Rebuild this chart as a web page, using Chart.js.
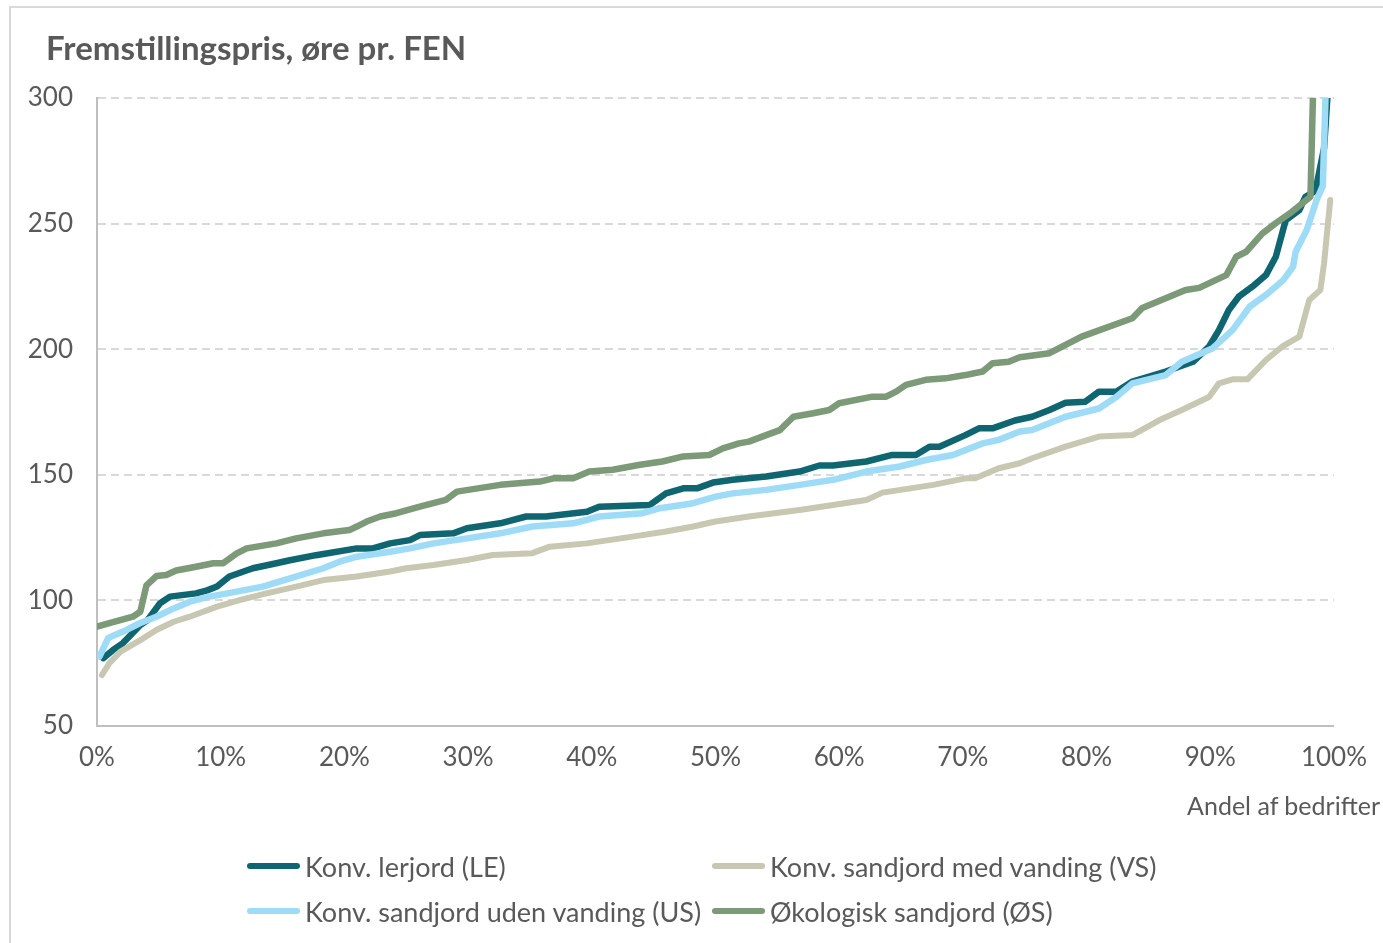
<!DOCTYPE html>
<html>
<head>
<meta charset="utf-8">
<script src="https://cdn.jsdelivr.net/npm/chart.js@4.4.1/dist/chart.umd.min.js"></script>
<style>
  html, body { margin: 0; padding: 0; background: #fff; }
  body { width: 1383px; height: 943px; position: relative; overflow: hidden; font-family: Lato, "Open Sans", sans-serif; color: #595959; }
  #frame { position: absolute; left: 9px; top: 6px; width: 1420px; height: 1000px; border: 2px solid #d9d9d9; }
  #chart { position: absolute; left: 0; top: 0; }
  #title { position: absolute; left: 46px; top: 31px; font-size: 33px; font-weight: bold; line-height: 1; }
  #xtitle { position: absolute; right: 3px; top: 793px; font-size: 25px; line-height: 1; }
  #legend { position: absolute; left: 247px; top: 848px; display: grid; grid-template-columns: 465px auto; row-gap: 9px; }
  .item { display: flex; align-items: center; height: 36px; font-size: 27px; }
  .swatch { width: 53px; height: 6px; margin-right: 5px; border-radius: 3px; }
</style>
</head>
<body>
<div id="frame"></div>
<canvas id="chart" width="1383" height="943"></canvas>
<div id="title">Fremstillingspris, øre pr. FEN</div>
<div id="xtitle">Andel af bedrifter</div>
<div id="legend"></div>
<script>
// andel af bedrifter (%) og fremstillingspris (øre pr. FEN) for hver serie
const lePct = [0.5, 1.3, 2.1, 3.5, 4.1, 5.1, 5.9, 8, 8.9, 9.7, 10.7, 12.6, 14.5, 15.6, 17.7, 21, 22.3, 23.7, 25.3, 26.1, 28.8, 29.9, 32.6, 34.7, 36.3, 39.6, 40.6, 44.7, 46, 47.4, 48.5, 49.8, 51.4, 54.1, 56.8, 58.4, 59.5, 62.2, 64.3, 66.2, 67.3, 68.1, 70.2, 71.3, 72.4, 74.2, 75.6, 77, 78.3, 79.9, 81, 82.4, 83.7, 86.4, 88.6, 89.9, 90.7, 91.5, 92.3, 93.4, 94.5, 95.3, 96.1, 97.2, 97.7, 98.5, 99.2, 99.6];
const leVal = [77, 80.3, 83, 90.2, 92.2, 98.9, 101.5, 102.8, 104, 105.5, 109.5, 112.8, 114.8, 116, 118, 120.7, 120.7, 122.7, 124, 126, 126.7, 128.7, 130.7, 133.4, 133.4, 135.3, 137.3, 138, 142.6, 144.6, 144.6, 146.9, 148, 149.3, 151.3, 153.7, 153.7, 155.3, 157.9, 157.9, 161.2, 161.2, 165.8, 168.5, 168.5, 171.6, 173.1, 175.8, 178.7, 179.1, 183.1, 183.1, 187.1, 191.1, 195, 201, 207.6, 215.6, 220.9, 224.9, 229.5, 236.8, 251.4, 255.4, 260.7, 263, 280, 310];

const vsPct = [0.4, 1, 1.9, 3.5, 4.8, 6.2, 7.5, 9.7, 11.6, 13.7, 16.1, 18.3, 21, 23.7, 25, 27.2, 29.9, 32, 35.2, 36.6, 39.6, 43.3, 46, 48.2, 50, 52.7, 56.8, 59.5, 62.2, 63.5, 67.6, 70.2, 71, 72.9, 74.6, 75.6, 78.3, 81, 83.7, 85.9, 87.7, 89.9, 90.7, 91.8, 93, 94.5, 95.8, 97.2, 98, 98.9, 99.2, 99.7];
const vsVal = [70.3, 75, 79.6, 84.2, 88.2, 91.5, 93.5, 97.5, 100.2, 102.8, 105.5, 108.1, 109.5, 111.5, 112.8, 114.1, 116.1, 118.1, 118.8, 121.4, 122.7, 125.4, 127.4, 129.4, 131.4, 133.4, 136, 138, 140, 142.9, 146, 148.6, 148.6, 152.6, 154.6, 156.6, 161.2, 165.2, 165.8, 171.8, 175.8, 181, 186.4, 188, 188, 195.7, 201, 205, 219.6, 223.6, 234.2, 259.4];

const usPct = [0.2, 0.9, 2.1, 3.5, 4.8, 6.2, 7.5, 9.1, 11.3, 13.4, 15.6, 18.3, 19.6, 21, 23.7, 25.3, 27.2, 29.9, 32.6, 35.2, 38.5, 40.6, 44.1, 45.5, 48.2, 50, 51.4, 54.1, 56.8, 59.5, 62.2, 64.9, 67, 69.2, 71.6, 72.9, 74.6, 75.6, 78.3, 81, 82.4, 83.7, 86.4, 87.7, 90.2, 91.8, 93.2, 94.5, 95.9, 96.7, 96.9, 97.8, 98.6, 99.1, 99.5];
const usVal = [77.6, 85, 87.6, 91, 93.5, 96.8, 99.5, 101.5, 103.5, 105.5, 108.8, 112.8, 115.4, 117.4, 119.4, 120.7, 122.7, 124.7, 126.7, 129.4, 130.7, 133.4, 134.7, 136.7, 138.7, 141.3, 142.6, 144, 146, 148, 151.3, 153.3, 155.9, 157.9, 162.5, 163.9, 167.2, 167.8, 173.1, 176.4, 181, 186.4, 189.7, 195, 200.4, 207.6, 217, 221.6, 227.5, 232.9, 238.8, 247.5, 259.4, 265, 330];

const osPct = [0, 1, 2.9, 3.5, 4, 4.8, 5.6, 6.4, 8, 9.4, 10.2, 11.3, 12.1, 14.5, 16.1, 18.3, 20.4, 21, 21.8, 22.9, 24.2, 26.1, 28.2, 29.1, 32.6, 35.8, 36.9, 38.5, 39.8, 41.7, 43.9, 45.7, 47.4, 49.5, 50.6, 51.9, 52.7, 54.1, 55.2, 56.3, 57.9, 59.2, 60, 62.7, 63.8, 64.6, 65.4, 67, 68.6, 70.2, 71.6, 72.4, 73.7, 74.6, 77, 79.6, 83.7, 84.5, 88, 89.1, 91.3, 92.1, 92.9, 94.2, 95.3, 96.6, 98.1, 98.4];
const osVal = [89.6, 91, 93.5, 95.5, 106, 109.7, 110.1, 111.9, 113.4, 114.8, 114.8, 118.7, 120.7, 122.7, 124.7, 126.7, 128, 129.4, 131.4, 133.4, 134.7, 137.3, 140, 143.3, 146, 147.3, 148.6, 148.6, 151.3, 152, 154, 155.3, 157.3, 157.9, 160.5, 162.5, 163.2, 165.8, 167.8, 173.1, 174.5, 175.8, 178.5, 181.1, 181.1, 183.1, 185.8, 187.8, 188.4, 189.7, 191.1, 194.4, 195, 196.8, 198.4, 205, 212.3, 216.4, 223.6, 224.4, 229.5, 236.8, 238.8, 246, 250.2, 254.7, 260.7, 320];

const seriesNames = ["Konv. lerjord (LE)", "Konv. sandjord med vanding (VS)", "Konv. sandjord uden vanding (US)", "Økologisk sandjord (ØS)"];
const seriesColors = ["#0f6671", "#c8c7b2", "#9edbf7", "#7c9a77"];
const xTicks = [0, 10, 20, 30, 40, 50, 60, 70, 80, 90, 100];
const yTicks = [50, 100, 150, 200, 250, 300];

const seriesPct = [lePct, vsPct, usPct, osPct];
const seriesVal = [leVal, vsVal, usVal, osVal];

function toPoints(pct, val) {
    return pct.map((p, i) => ({ x: p, y: val[i] }));
}

// excel tegner sidste serie øverst, chart.js tegner laveste order øverst
const datasets = seriesNames.map((name, i) => ({
    label: name,
    data: toPoints(seriesPct[i], seriesVal[i]),
    borderColor: seriesColors[i],
    backgroundColor: seriesColors[i],
    borderWidth: i === 1 ? 6 : 6.5,
    pointRadius: 0,
    tension: 0,
    borderJoinStyle: "round",
    borderCapStyle: "round",
    clip: 0,
    order: seriesNames.length - i
}));

const tickFont = { family: "Lato, 'Open Sans', sans-serif", size: 26 };

new Chart(document.getElementById("chart"), {
    type: "line",
    data: { datasets: datasets },
    options: {
        responsive: false,
        animation: false,
        events: [],
        layout: { padding: { left: 0, right: 48, top: 98, bottom: 0 } },
        plugins: {
            legend: { display: false },
            tooltip: { enabled: false }
        },
        scales: {
            x: {
                type: "linear",
                min: 0,
                max: 100,
                afterBuildTicks: s => { s.ticks = xTicks.map(v => ({ value: v })); },
                afterFit: s => { s.height = 943 - 726; },
                ticks: { callback: v => v + "%", font: tickFont, color: "#595959", padding: 16, maxRotation: 0, autoSkip: false },
                grid: { display: false, drawTicks: false },
                border: { display: true, color: "#bfbfbf", width: 2 }
            },
            y: {
                min: 50,
                max: 300,
                afterBuildTicks: s => { s.ticks = yTicks.map(v => ({ value: v })); },
                afterFit: s => { s.width = 97; },
                ticks: { font: tickFont, color: "#595959", padding: 24 },
                grid: {
                    drawTicks: false,
                    lineWidth: 2,
                    color: c => (c.tick && c.tick.value === 50) ? "rgba(0,0,0,0)" : "#d9d9d9"
                },
                border: { display: true, color: "#bfbfbf", width: 2, dash: [8, 5] }
            }
        }
    }
});

// legenden: to kolonner som i originalen
const legend = document.getElementById("legend");
seriesNames.forEach((name, i) => {
    const item = document.createElement("div");
    item.className = "item";
    item.innerHTML = `<span class="swatch" style="background:${seriesColors[i]}"></span><span>${name}</span>`;
    legend.appendChild(item);
});
</script>
</body>
</html>
